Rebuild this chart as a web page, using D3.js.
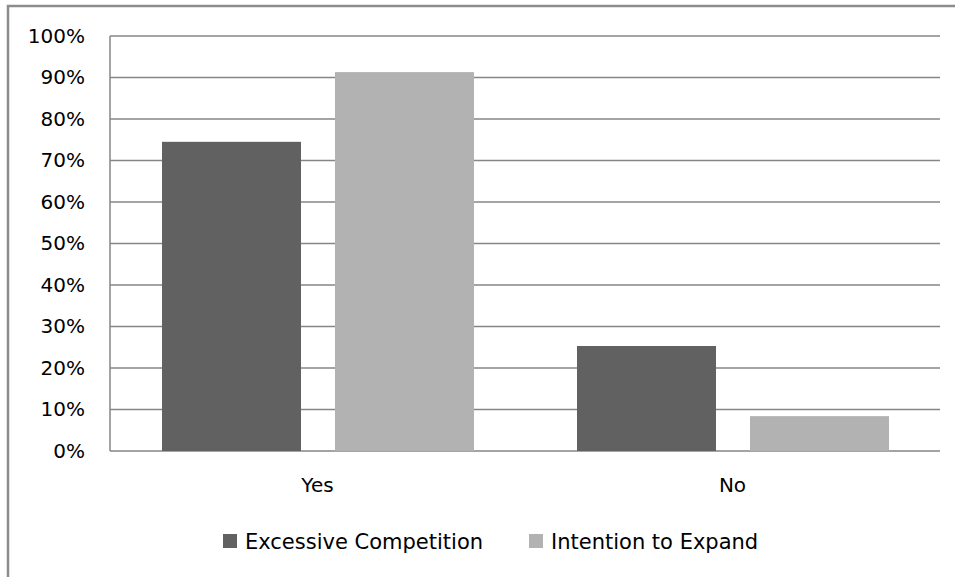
<!DOCTYPE html>
<html>
<head>
<meta charset="utf-8">
<script src="https://cdn.jsdelivr.net/npm/d3@7"></script>
<style>
  html, body { margin: 0; padding: 0; background: #fff; }
  svg { display: block; }
</style>
</head>
<body>
<svg id="chart" width="955" height="577"></svg>
<script>
// Survey responses, share of firms (%)
const categories = ["Yes", "No"];
const seriesNames = ["Excessive Competition", "Intention to Expand"];
const excessiveCompetition = [74.5, 25.3];
const intentionToExpand = [91.3, 8.4];
const tickValues = [0, 10, 20, 30, 40, 50, 60, 70, 80, 90, 100];
const seriesColors = ["#616161", "#b2b2b2"];

const rows = categories.map((c, i) => ({
  category: c,
  values: [excessiveCompetition[i], intentionToExpand[i]]
}));

const svg = d3.select("#chart");
const plot = { left: 110, right: 940, top: 36, bottom: 451 };
const FONT = "DejaVu Sans, sans-serif";

// outer frame
svg.append("rect")
  .attr("x", 8).attr("y", 6)
  .attr("width", 970).attr("height", 590)
  .attr("fill", "none")
  .attr("stroke", "#8c8c8c")
  .attr("stroke-width", 2.5);

const x0 = d3.scaleBand()
  .domain(categories)
  .range([plot.left, plot.right])
  .paddingInner(0)
  .paddingOuter(0);

const x1 = d3.scaleBand()
  .domain(seriesNames)
  .range([52, x0.bandwidth() - 51])
  .paddingInner(34 / 173)
  .paddingOuter(0);

const y = d3.scaleLinear().domain([0, 100]).range([plot.bottom, plot.top]);

// gridlines
svg.append("g")
  .selectAll("line")
  .data(tickValues)
  .join("line")
  .attr("x1", plot.left).attr("x2", plot.right)
  .attr("y1", d => y(d)).attr("y2", d => y(d))
  .attr("stroke", "#868686")
  .attr("stroke-width", 1.5);

// value axis line
svg.append("line")
  .attr("x1", plot.left).attr("x2", plot.left)
  .attr("y1", plot.top).attr("y2", plot.bottom)
  .attr("stroke", "#868686")
  .attr("stroke-width", 1.5);

// bars
const groups = svg.append("g")
  .selectAll("g")
  .data(rows)
  .join("g")
  .attr("transform", d => `translate(${x0(d.category)},0)`);

groups.selectAll("rect")
  .data(d => d.values.map((v, i) => ({ name: seriesNames[i], value: v, i })))
  .join("rect")
  .attr("x", d => x1(d.name))
  .attr("width", x1.bandwidth())
  .attr("y", d => y(d.value))
  .attr("height", d => y(0) - y(d.value))
  .attr("fill", d => seriesColors[d.i]);

// y axis labels
const yAxis = d3.axisLeft(y)
  .tickValues(tickValues)
  .tickFormat(d => d + "%")
  .tickSize(0)
  .tickPadding(0);
const yg = svg.append("g")
  .attr("transform", `translate(${plot.left - 25},0)`)
  .call(yAxis);
yg.select(".domain").remove();
yg.selectAll("text")
  .attr("font-family", FONT)
  .attr("font-size", 20)
  .attr("fill", "#000");

// category labels
const xAxis = d3.axisBottom(x0).tickSize(0).tickPadding(0);
const xg = svg.append("g")
  .attr("transform", `translate(0,${plot.bottom})`)
  .call(xAxis);
xg.select(".domain").remove();
xg.selectAll("text")
  .attr("y", 41)
  .attr("dy", null)
  .attr("font-family", FONT)
  .attr("font-size", 20)
  .attr("fill", "#000");

// legend
const legendItems = [
  { name: seriesNames[0], color: seriesColors[0], x: 223 },
  { name: seriesNames[1], color: seriesColors[1], x: 529 }
];
const lg = svg.append("g").selectAll("g")
  .data(legendItems)
  .join("g")
  .attr("transform", d => `translate(${d.x},534)`);
lg.append("rect")
  .attr("width", 14).attr("height", 14)
  .attr("fill", d => d.color);
lg.append("text")
  .attr("x", 22).attr("y", 15)
  .attr("font-family", FONT)
  .attr("font-size", 21)
  .attr("fill", "#000")
  .text(d => d.name);
</script>
</body>
</html>
